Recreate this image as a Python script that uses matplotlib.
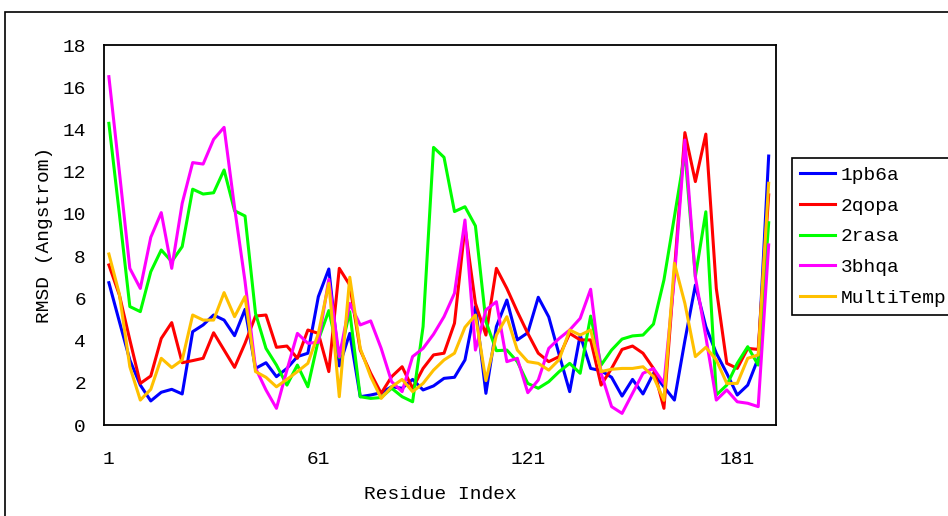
import matplotlib as mpl
mpl.use("agg")
import matplotlib.pyplot as plt
from matplotlib.patches import Rectangle
import numpy as np

mpl.rc('font', family=['Liberation Mono', 'DejaVu Sans Mono'], size=14)

# residue index, one point every 3 residues
residues = list(range(1, 191, 3))

s_1pb6a = [6.74, 4.9, 3.08, 1.89, 1.14, 1.55, 1.69, 1.47, 4.42, 4.74,
           5.21, 4.97, 4.23, 5.48, 2.68, 2.95, 2.29, 2.68, 3.24, 3.4,
           6.08, 7.39, 2.8, 4.34, 1.34, 1.42, 1.53, 1.81, 1.74, 2.16,
           1.66, 1.85, 2.21, 2.26, 3.08, 5.61, 1.5, 4.66, 5.92, 4.03,
           4.37, 6.05, 5.12, 3.32, 1.58, 4.26, 2.68, 2.57, 2.26, 1.37,
           2.16, 1.47, 2.45, 1.81, 1.18, 4.0, 6.63, 4.66, 3.4, 2.45,
           1.42, 1.89, 3.16, 12.74]
s_2qopa = [7.58, 6.16, 4.03, 1.97, 2.32, 4.1, 4.85, 2.95, 3.05, 3.16,
           4.37, 3.55, 2.73, 3.87, 5.16, 5.21, 3.68, 3.74, 3.16, 4.5,
           4.34, 2.53, 7.42, 6.63, 3.55, 2.45, 1.5, 2.29, 2.76, 1.74,
           2.68, 3.32, 3.4, 4.82, 9.39, 5.76, 4.26, 7.42, 6.47, 5.37,
           4.34, 3.4, 3.0, 3.24, 4.34, 4.03, 4.03, 1.89, 2.68, 3.58,
           3.74, 3.4, 2.68, 0.79, 7.3, 13.85, 11.53, 13.78, 6.47, 2.92,
           2.68, 3.63, 3.58, 10.9]
s_2rasa = [14.29, 10.0, 5.61, 5.37, 7.26, 8.29, 7.74, 8.45, 11.17, 10.94,
           11.0, 12.08, 10.15, 9.9, 5.29, 3.63, 2.84, 1.89, 2.84, 1.81,
           4.03, 5.42, 3.2, 5.37, 1.34, 1.26, 1.3, 1.74, 1.34, 1.1,
           4.66, 13.15, 12.68, 10.11, 10.34, 9.43, 4.9, 3.52, 3.55, 3.0,
           1.97, 1.74, 2.05, 2.53, 2.92, 2.45, 5.16, 2.84, 3.55, 4.07,
           4.22, 4.26, 4.78, 6.87, 9.87, 12.9, 7.03, 10.1, 1.42, 1.89,
           2.92, 3.71, 2.84, 9.58]
s_3bhqa = [16.5, 12.0, 7.42, 6.47, 8.89, 10.06, 7.42, 10.5, 12.43, 12.36,
           13.53, 14.1, 10.3, 6.8, 2.7, 1.66, 0.79, 2.6, 4.34, 3.87,
           3.92, 6.9, 3.24, 5.76, 4.74, 4.93, 3.63, 2.05, 1.58, 3.24,
           3.63, 4.3, 5.13, 6.24, 9.71, 3.55, 5.45, 5.84, 3.0, 3.16,
           1.53, 2.13, 3.63, 4.1, 4.5, 5.05, 6.43, 2.45, 0.87, 0.55,
           1.5, 2.45, 2.68, 1.97, 7.0, 13.5, 7.0, 4.18, 1.18, 1.66,
           1.1, 1.03, 0.87, 8.53]
s_multi = [8.1, 6.2, 2.76, 1.18, 1.69, 3.16, 2.72, 3.08, 5.21, 4.97,
           4.97, 6.27, 5.13, 6.08, 2.53, 2.26, 1.81, 2.16, 2.53, 2.92,
           4.34, 6.71, 1.34, 7.0, 3.63, 2.29, 1.26, 1.81, 2.16, 1.58,
           1.97, 2.6, 3.08, 3.4, 4.63, 5.21, 2.1, 4.26, 5.13, 3.55,
           3.0, 2.92, 2.6, 3.1, 4.5, 4.26, 4.5, 2.53, 2.64, 2.68,
           2.68, 2.76, 2.29, 1.17, 7.66, 5.76, 3.24, 3.68, 3.08, 1.97,
           1.97, 3.16, 3.32, 11.45]

series = [("1pb6a", s_1pb6a, "#0000FF"),
          ("2qopa", s_2qopa, "#FF0000"),
          ("2rasa", s_2rasa, "#00FF00"),
          ("3bhqa", s_3bhqa, "#FF00FF"),
          ("MultiTemp", s_multi, "#FFC000")]

fig = plt.figure(figsize=(9.48, 5.16), dpi=100)
# outer chart border (cut off at right and bottom like the original)
fig.patches.append(Rectangle((5/948, -0.1), 1.2, 1 - 12/516 + 0.1,
                             transform=fig.transFigure, fill=False,
                             edgecolor="black", linewidth=1.2))

ax = fig.add_axes([104/948, 1 - 425/516, 672/948, 380/516])
for name, vals, col in series:
    ax.plot(residues, vals, color=col, linewidth=2.2, label=name)

ax.set_xlim(-0.4, 192.1)
ax.set_ylim(0, 18)
ax.set_xticks([1, 61, 121, 181])
ax.set_yticks(range(0, 19, 2))
ax.tick_params(length=0)
ax.tick_params(axis='x', pad=18.5)
ax.tick_params(axis='y', pad=13)
for sp in ax.spines.values():
    sp.set_linewidth(1.3)
ax.set_xlabel("Residue Index", labelpad=13)
ax.set_ylabel("RMSD (Angstrom)", labelpad=7)

# legend runs past the right edge, as in the original
leg = fig.legend(loc="upper left", bbox_to_anchor=(792/948, 1 - 158/516),
                 fancybox=False, edgecolor="black", framealpha=1,
                 handlelength=1.8, handletextpad=0.3, labelspacing=0.68,
                 borderpad=0.42, borderaxespad=0)
leg.get_frame().set_linewidth(1.2)

plt.savefig("out.png", dpi=100)
